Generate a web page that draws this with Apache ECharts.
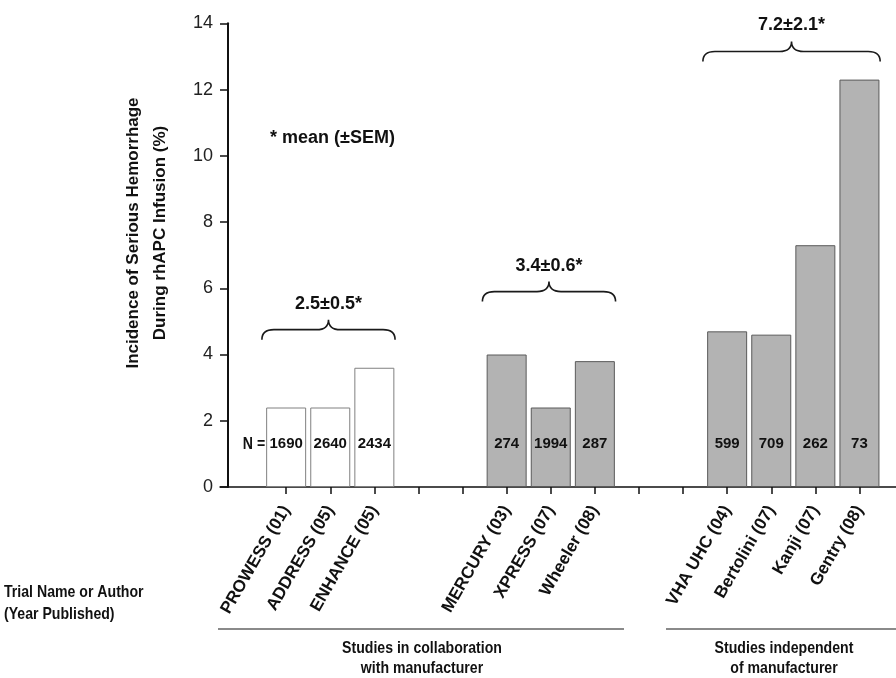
<!DOCTYPE html>
<html>
<head>
<meta charset="utf-8">
<script src="https://cdn.jsdelivr.net/npm/echarts@6/dist/echarts.min.js"></script>
<style>
html,body{margin:0;padding:0;background:#fff;}
#chart{width:896px;height:678px;}
</style>
</head>
<body>
<div id="chart"></div>
<script>
// ---- data ----
const categories = ['', 'PROWESS (01)', 'ADDRESS (05)', 'ENHANCE (05)', '', '', 'MERCURY (03)', 'XPRESS (07)', 'Wheeler (08)', '', '', 'VHA UHC (04)', 'Bertolini (07)', 'Kanji (07)', 'Gentry (08)', ''];
const incidence = [null, 2.4, 2.4, 3.6, null, null, 4.0, 2.4, 3.8, null, null, 4.7, 4.6, 7.3, 12.3, null];
const sampleN = [null, 1690, 2640, 2434, null, null, 274, 1994, 287, null, null, 599, 709, 262, 73, null];
const cluster = [null, 0, 0, 0, null, null, 1, 1, 1, null, null, 2, 2, 2, 2, null];
const yTicks = { min: 0, max: 14, step: 2 };
const braceFirst = [1, 6, 11];
const braceLast = [3, 8, 14];
const braceLevel = [4.75, 5.9, 13.15];
const braceText = ['2.5\u00b10.5*', '3.4\u00b10.6*', '7.2\u00b12.1*'];
const yTitle = ['Incidence of Serious Hemorrhage', 'During rhAPC Infusion (%)'];
const xTitle = ['Trial Name or Author', '(Year Published)'];
const groupTitles = [['Studies in collaboration', 'with manufacturer'], ['Studies independent', 'of manufacturer']];
const noteText = '* mean (\u00b1SEM)';
const nPrefix = 'N =';

// ---- styles ----
const SANS = "'Liberation Sans', Arial, sans-serif";
const NARROW_SCALE = 0.83;
const fillFor = c => c === 0 ? '#ffffff' : '#b3b3b3';
const borderFor = c => c === 0 ? '#808080' : '#5a5a5a';

const chart = echarts.init(document.getElementById('chart'));

const barData = incidence.map((v, i) => v == null ? '-' : {
  value: v,
  itemStyle: { color: fillFor(cluster[i]), borderColor: borderFor(cluster[i]), borderWidth: 1 }
});

const braceData = braceFirst.map((f, i) => [f, braceLast[i], braceLevel[i], i]);

function narrowText(x, y, text, align) {
  return { type: 'text', x: x, y: y, scaleX: NARROW_SCALE,
    style: { text: text, align: align, verticalAlign: 'middle', font: 'bold 17px ' + SANS, fill: '#111' } };
}

const option = {
  animation: false,
  backgroundColor: '#ffffff',
  grid: { left: 220, top: 23.3, width: 705.6, height: 463.7, containLabel: false, outerBoundsMode: 'none' },
  xAxis: {
    type: 'category',
    data: categories,
    boundaryGap: true,
    axisLine: { show: true, lineStyle: { color: '#111', width: 1.5 } },
    axisTick: {
      show: true, alignWithLabel: true, length: 7,
      interval: (idx) => idx > 0 && idx < categories.length - 1,
      lineStyle: { color: '#111', width: 1.5 }
    },
    axisLabel: {
      interval: 0, rotate: 60, margin: 20,
      fontFamily: SANS, fontWeight: 'bold', fontSize: 17, color: '#111'
    },
    splitLine: { show: false }
  },
  yAxis: {
    type: 'value',
    min: yTicks.min, max: yTicks.max, interval: yTicks.step,
    offset: -8,
    axisLine: { show: true, lineStyle: { color: '#111', width: 2 } },
    axisTick: { show: true, length: 8, lineStyle: { color: '#111', width: 1.5 } },
    axisLabel: { margin: 15, fontFamily: SANS, fontSize: 18, color: '#222' },
    splitLine: { show: false }
  },
  series: [
    {
      type: 'bar',
      data: barData,
      barWidth: 40,
      label: {
        show: true, position: 'insideBottom', distance: 36,
        formatter: p => sampleN[p.dataIndex] == null ? '' : String(sampleN[p.dataIndex]),
        fontFamily: SANS, fontWeight: 'bold', fontSize: 15, color: '#111'
      },
      silent: true
    },
    {
      type: 'custom',
      data: braceData,
      encode: { x: 0, y: 2 },
      silent: true,
      z: 5,
      renderItem: function (params, api) {
        const first = api.value(0), last = api.value(1), lvl = api.value(2), idx = api.value(3);
        const p0 = api.coord([first, lvl]);
        const p1 = api.coord([last, lvl]);
        const w = api.size([1, 0])[0];
        const xl = p0[0] - 0.55 * w, xr = p1[0] + 0.47 * w, y = p0[1];
        const xm = (xl + xr) / 2, h = 10, r = 12;
        const d = 'M' + xl + ' ' + (y + h) +
          ' Q' + xl + ' ' + y + ' ' + (xl + r) + ' ' + y +
          ' L' + (xm - r) + ' ' + y +
          ' Q' + xm + ' ' + y + ' ' + xm + ' ' + (y - h) +
          ' Q' + xm + ' ' + y + ' ' + (xm + r) + ' ' + y +
          ' L' + (xr - r) + ' ' + y +
          ' Q' + xr + ' ' + y + ' ' + xr + ' ' + (y + h);
        return {
          type: 'group',
          children: [
            { type: 'path', shape: { pathData: d }, style: { fill: 'none', stroke: '#1a1a1a', lineWidth: 1.6 } },
            { type: 'text', style: { text: braceText[idx], x: xm, y: y - h - 16, align: 'center', verticalAlign: 'middle', font: 'bold 18px ' + SANS, fill: '#111' } }
          ]
        };
      }
    }
  ],
  graphic: [
    { type: 'text', x: 133, y: 233, rotation: Math.PI / 2, style: { text: yTitle[0], align: 'center', verticalAlign: 'middle', font: 'bold 17px ' + SANS, fill: '#111' } },
    { type: 'text', x: 160, y: 233, rotation: Math.PI / 2, style: { text: yTitle[1], align: 'center', verticalAlign: 'middle', font: 'bold 17px ' + SANS, fill: '#111' } },
    { type: 'text', x: 270, y: 138, style: { text: noteText, align: 'left', verticalAlign: 'middle', font: 'bold 18px ' + SANS, fill: '#111' } },
    narrowText(254, 444, nPrefix, 'center'),
    narrowText(4, 592, xTitle[0], 'left'),
    narrowText(4, 614, xTitle[1], 'left'),
    { type: 'line', shape: { x1: 218, y1: 629, x2: 624, y2: 629 }, style: { stroke: '#8a8a8a', lineWidth: 2 } },
    { type: 'line', shape: { x1: 666, y1: 629, x2: 896, y2: 629 }, style: { stroke: '#8a8a8a', lineWidth: 2 } },
    narrowText(422, 648, groupTitles[0][0], 'center'),
    narrowText(422, 668, groupTitles[0][1], 'center'),
    narrowText(784, 648, groupTitles[1][0], 'center'),
    narrowText(784, 668, groupTitles[1][1], 'center')
  ]
};
chart.setOption(option);
</script>
</body>
</html>
